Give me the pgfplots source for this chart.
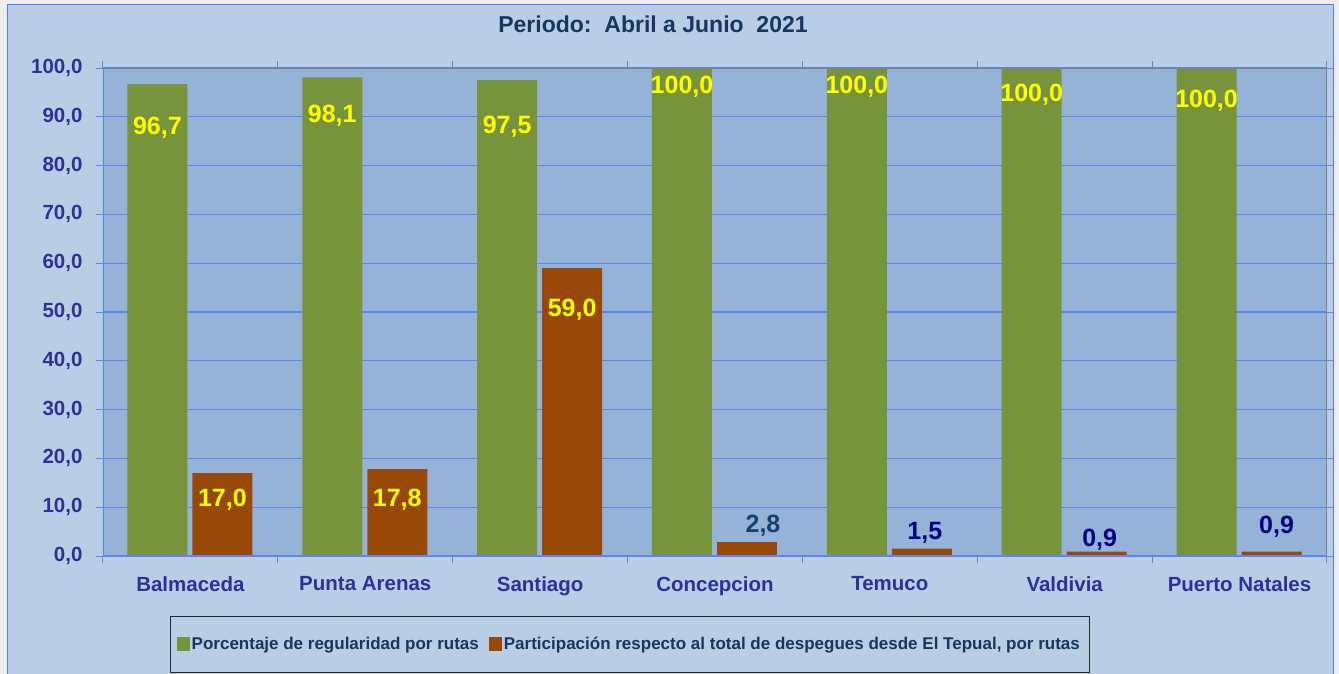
\documentclass[border=0pt]{standalone}
\usepackage{pgfplots}
\usepackage{pgfplotstable}
\pgfplotsset{compat=1.18}
\usepackage{fontspec}
\setmainfont{Liberation Sans}
\definecolor{bgout}{HTML}{EEEEEE}
\definecolor{chartbg}{HTML}{B9CDE5}
\definecolor{plotbg}{HTML}{95B3D7}
\definecolor{gridblue}{HTML}{5B86EE}
\definecolor{borderblue}{HTML}{4D7CFF}
\definecolor{cgreen}{HTML}{77933C}
\definecolor{corange}{HTML}{984807}
\definecolor{titlec}{HTML}{17375E}
\definecolor{tickc}{HTML}{30309A}
\definecolor{lyel}{HTML}{FFFF00}
\definecolor{lteal}{HTML}{17406E}
\definecolor{lnavy}{HTML}{000080}

\pgfplotstableread{
x g gdy gdx o ody odx
0 96.7 -44 0 17.0 -27 0
1 98.1 -38 0 17.8 -31 0
2 97.5 -47 0 59.0 -42 0
3 100.0 -19 0 2.8 17 16
4 100.0 -19 0 1.5 16 3
5 100.0 -27 0 0.9 12 3
6 100.0 -33 0 0.9 25 5
}\data

\begin{document}
\begin{tikzpicture}
\useasboundingbox (0pt,-674pt) rectangle (1339pt,0pt);
\fill[bgout] (0pt,-674pt) rectangle (1339pt,0pt);
\fill[chartbg] (7pt,-680pt) rectangle (1333pt,-5pt);
\draw[borderblue, line width=1pt] (7pt,-680pt) -- (7pt,-5pt) -- (1333pt,-5pt) -- (1333pt,-680pt);
\node[text=titlec, font=\fontsize{23}{27}\selectfont\bfseries] at (653pt,-24pt) {Periodo:\ \ Abril a Junio\ \ 2021};
\begin{axis}[
  at={(103pt,-556pt)}, anchor=south west, scale only axis,
  width=1224pt, height=488pt,
  ybar, bar width=60pt,
  xmin=-0.5, xmax=6.5, ymin=0, ymax=100,
  xtick={0,...,6},
  xticklabels={Balmaceda,Punta Arenas,Santiago,Concepcion,Temuco,Valdivia,Puerto Natales},
  major x tick style={draw=none},
  extra x ticks={-0.5,0.5,1.5,2.5,3.5,4.5,5.5,6.5},
  extra x tick labels={},
  extra x tick style={major x tick style={draw=gridblue, line width=1pt}},
  ytick={0,10,...,100},
  tick align=outside, major tick length=7pt,
  major y tick style={draw=gridblue, line width=1pt},
  ymajorgrids, grid style={gridblue, line width=1.2pt},
  axis line style={draw=none},
  axis background/.style={fill=plotbg},
  tick label style={text=tickc, font=\fontsize{20.5}{24}\selectfont\bfseries},
  xticklabel style={yshift=-10pt},
  yticklabel style={xshift=-10pt},
  /pgf/number format/.cd, fixed, fixed zerofill, precision=1, use comma, assume math mode=true,
  /pgfplots/.cd,
  legend style={at={(0.430,-0.123)}, anchor=north, draw=black!85, fill=none,
    legend columns=2, font=\fontsize{17}{20}\selectfont\bfseries, text=titlec,
    inner xsep=7pt, inner ysep=19pt,
    /tikz/every even column/.append style={column sep=8pt}},
  legend cell align=left,
]
\addplot[fill=cgreen, draw=none, bar shift=-33pt,
  legend image code/.code={\fill[cgreen] (0pt,-7pt) rectangle (13pt,7pt);},
  nodes near coords,
  visualization depends on={\thisrow{gdy} \as \gdy},
  visualization depends on={\thisrow{gdx} \as \gdx},
  nodes near coords style={anchor=center, yshift=\gdy pt, xshift=\gdx pt, text=lyel, font=\fontsize{25}{29}\selectfont\bfseries}]
  table[x=x, y=g] {\data};
\addlegendentry{Porcentaje de regularidad por rutas}
\addplot[fill=corange, draw=none, bar shift=32pt, restrict x to domain=-0.1:2.1,
  legend image code/.code={\fill[corange] (0pt,-7pt) rectangle (13pt,7pt);},
  nodes near coords,
  visualization depends on={\thisrow{ody} \as \ody},
  visualization depends on={\thisrow{odx} \as \odx},
  nodes near coords style={anchor=center, yshift=\ody pt, xshift=\odx pt, text=lyel, font=\fontsize{25}{29}\selectfont\bfseries}]
  table[x=x, y=o] {\data};
\addlegendentry{Participación respecto al total de despegues desde El Tepual, por rutas}
\addplot[fill=corange, draw=none, bar shift=32pt, restrict x to domain=2.9:3.1, forget plot,
  nodes near coords,
  visualization depends on={\thisrow{ody} \as \ody},
  visualization depends on={\thisrow{odx} \as \odx},
  nodes near coords style={anchor=center, yshift=\ody pt, xshift=\odx pt, text=lteal, font=\fontsize{25}{29}\selectfont\bfseries}]
  table[x=x, y=o] {\data};
\addplot[fill=corange, draw=none, bar shift=32pt, restrict x to domain=3.9:6.1, forget plot,
  nodes near coords,
  visualization depends on={\thisrow{ody} \as \ody},
  visualization depends on={\thisrow{odx} \as \odx},
  nodes near coords style={anchor=center, yshift=\ody pt, xshift=\odx pt, text=lnavy, font=\fontsize{25}{29}\selectfont\bfseries}]
  table[x=x, y=o] {\data};
\draw[gray, line width=1pt] (rel axis cs:0,1) -- (rel axis cs:1,1) -- (rel axis cs:1,0);
\draw[gridblue, line width=1.2pt] (rel axis cs:0,1) -- (rel axis cs:0,0) -- (rel axis cs:1,0);
\end{axis}
\end{tikzpicture}
\end{document}
